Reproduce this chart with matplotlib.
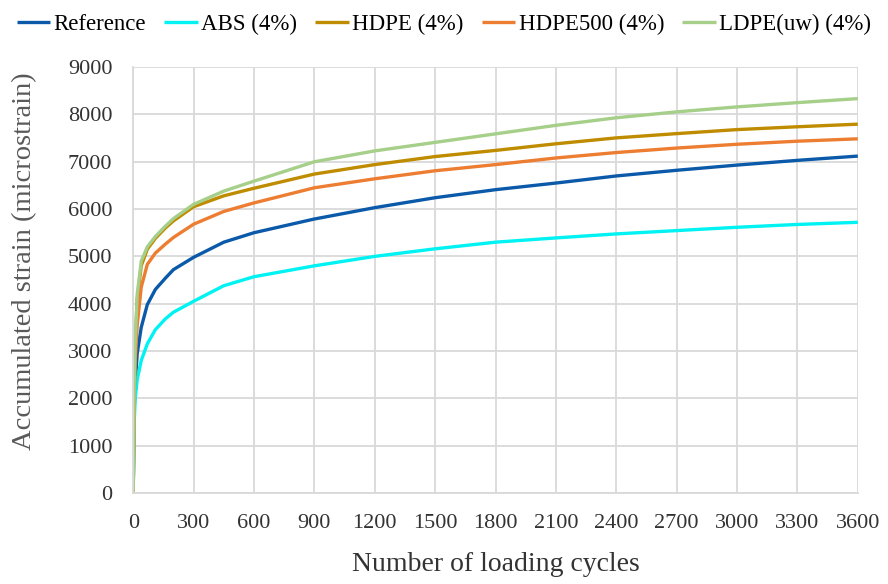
import matplotlib
matplotlib.use('Agg')
import matplotlib.pyplot as plt

# loading cycles at which the curves were read
cycles = [0, 5, 10, 20, 40, 70, 110, 160, 200, 300, 450, 600, 900, 1200,
          1500, 1800, 2100, 2400, 2700, 3000, 3300, 3600]

reference = [0, 1800, 2300, 2950, 3500, 3980, 4300, 4540, 4720, 4980, 5300,
             5500, 5790, 6030, 6240, 6410, 6550, 6700, 6820, 6930, 7030, 7120]
abs_4 = [0, 1500, 2000, 2400, 2800, 3150, 3450, 3680, 3820, 4050, 4380,
         4570, 4800, 5000, 5160, 5300, 5390, 5475, 5545, 5615, 5675, 5720]
hdpe_4 = [0, 2200, 3100, 4100, 4800, 5150, 5380, 5600, 5750, 6050, 6280,
          6440, 6740, 6940, 7110, 7240, 7380, 7505, 7595, 7680, 7740, 7795]
hdpe500_4 = [0, 2000, 2800, 3550, 4350, 4830, 5070, 5260, 5400, 5680, 5950,
             6130, 6450, 6640, 6810, 6940, 7080, 7195, 7290, 7370, 7435, 7485]
ldpe_4 = [0, 2300, 3200, 4200, 4900, 5200, 5420, 5640, 5800, 6100, 6380,
          6590, 7000, 7230, 7410, 7590, 7770, 7930, 8055, 8160, 8250, 8335]

series = [
    ('Reference', reference, '#0b5aaa'),
    ('ABS (4%)', abs_4, '#00f2f2'),
    ('HDPE (4%)', hdpe_4, '#bf8c00'),
    ('HDPE500 (4%)', hdpe500_4, '#ed7d31'),
    ('LDPE(uw) (4%)', ldpe_4, '#a6cf8a'),
]

plt.rcParams['font.family'] = ['Liberation Serif', 'DejaVu Serif']

fig = plt.figure(figsize=(8.88, 5.84), dpi=100)
ax = fig.add_axes([0.150, 0.156, 0.816, 0.729])

for name, vals, color in series:
    ax.plot(cycles, vals, color=color, lw=2.4, label=name, solid_capstyle='butt')

ax.set_xlim(0, 3600)
ax.set_ylim(0, 9000)
ax.set_xticks(range(0, 3601, 300))
ax.set_yticks(range(0, 9001, 1000))
ax.grid(True, color='#d9d9d9', lw=1.3)
ax.set_axisbelow(True)
for side in ['top', 'right']:
    ax.spines[side].set_visible(False)
for side in ['left', 'bottom']:
    ax.spines[side].set_color('#d9d9d9')
    ax.spines[side].set_linewidth(1.3)
ax.tick_params(length=0, labelsize=16, colors='#333333')
ax.tick_params(axis='x', pad=15)
ax.tick_params(axis='y', pad=15)

ax.set_xlabel('Number of loading cycles', fontsize=20, color='#333333', labelpad=14)
ax.set_ylabel('Accumulated strain (microstrain)', fontsize=20.5, color='#595959')
ax.yaxis.set_label_coords(-0.133, 0.545)

fig.legend(loc='upper center', bbox_to_anchor=(0.5, 1.012), ncol=5, frameon=False,
           fontsize=16.5, handlelength=1.45, handletextpad=0.15, columnspacing=0.8)

fig.savefig('out.png', dpi=100)
